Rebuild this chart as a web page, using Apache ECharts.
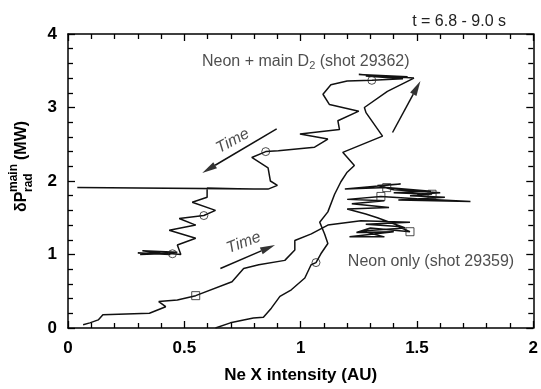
<!DOCTYPE html>
<html>
<head>
<meta charset="utf-8">
<script src="https://cdn.jsdelivr.net/npm/echarts@6/dist/echarts.min.js"></script>
<style>
  html, body { margin: 0; padding: 0; background: #fff; }
  #chart { width: 541px; height: 389px; }
</style>
</head>
<body>
<div id="chart"></div>
<script>
const FONT = '"Liberation Sans", Arial, Helvetica, sans-serif';

// Tick labels
const xTickLabels = ['0', '0.5', '1', '1.5', '2'];
const yTickLabels = ['0', '1', '2', '3', '4'];

// Shot 29362 (neon + main D2): rises on the right branch, returns on the left
const shot29362 = [
  [0.634, 0.00], [0.698, 0.07], [0.755, 0.11], [0.797, 0.135], [0.840, 0.145],
  [0.874, 0.27], [0.911, 0.43], [0.960, 0.52], [1.018, 0.68], [1.045, 0.86],
  [1.066, 0.89], [1.087, 1.01], [1.117, 1.15], [1.103, 1.28], [1.082, 1.44],
  [1.117, 1.58], [1.146, 1.82], [1.173, 1.99], [1.200, 2.12], [1.231, 2.21],
  [1.181, 2.39], [1.352, 2.61], [1.281, 2.93], [1.274, 3.00], [1.373, 3.22],
  [1.487, 3.40], [1.250, 3.45], [1.460, 3.42], [1.280, 3.43], [1.440, 3.39],
  [1.306, 3.37], [1.200, 3.36], [1.130, 3.31], [1.096, 3.18], [1.124, 3.04],
  [1.250, 2.95], [1.160, 2.82], [1.167, 2.70], [0.997, 2.64], [1.117, 2.57],
  [1.060, 2.46], [0.904, 2.41], [0.850, 2.40], [0.790, 2.32], [0.860, 2.18],
  [0.870, 2.00], [0.900, 1.94], [0.860, 1.89], [0.040, 1.91], [0.800, 1.89],
  [0.598, 1.90], [0.598, 1.78], [0.534, 1.71], [0.634, 1.60], [0.584, 1.53],
  [0.478, 1.49], [0.549, 1.40], [0.435, 1.33], [0.549, 1.22], [0.470, 1.13],
  [0.485, 1.00], [0.449, 1.01], [0.300, 1.02], [0.440, 1.00], [0.320, 1.05],
  [0.470, 1.03], [0.310, 1.00], [0.400, 1.01]
];
const shot29362Markers = [
  [1.066, 0.89], [1.306, 3.37], [0.850, 2.40], [0.584, 1.53], [0.449, 1.01]
];

// Shot 29359 (neon only): rises from the origin into a noisy cluster
const shot29359 = [
  [0.065, 0.045], [0.094, 0.07], [0.130, 0.11], [0.150, 0.18], [0.350, 0.20],
  [0.420, 0.29], [0.390, 0.36], [0.470, 0.38], [0.549, 0.44], [0.705, 0.63],
  [0.755, 0.81], [0.820, 0.86], [0.932, 0.92], [0.975, 1.06], [0.975, 1.19],
  [1.046, 1.28], [1.117, 1.40], [1.259, 1.46], [1.470, 1.44], [1.280, 1.41],
  [1.420, 1.38], [1.470, 1.31], [1.300, 1.36], [1.240, 1.30], [1.400, 1.31],
  [1.210, 1.24], [1.360, 1.24], [1.260, 1.32], [1.450, 1.36], [1.330, 1.50],
  [1.280, 1.55], [1.200, 1.62], [1.380, 1.64], [1.220, 1.69], [1.360, 1.73],
  [1.200, 1.75], [1.345, 1.79], [1.500, 1.76], [1.730, 1.72], [1.420, 1.74],
  [1.620, 1.78], [1.470, 1.80], [1.565, 1.82], [1.400, 1.84], [1.560, 1.86],
  [1.370, 1.91], [1.190, 1.89], [1.430, 1.96], [1.330, 1.94], [1.400, 1.88],
  [1.600, 1.84], [1.500, 1.82]
];
const shot29359Markers = [
  [0.549, 0.44], [1.470, 1.31], [1.345, 1.79], [1.565, 1.82], [1.370, 1.91]
];

// Direction-of-time arrows: [x0, y0, x1, y1]
const timeArrows = [
  [0.897, 2.71, 0.577, 2.11],
  [0.655, 0.81, 0.890, 1.13],
  [1.395, 2.66, 1.515, 3.36]
];

const chart = echarts.init(document.getElementById('chart'), null, { renderer: 'canvas' });

const tickStyle = { color: '#000', width: 1.3 };
function axisCommon(extra) {
  return Object.assign({
    type: 'value',
    axisLine: { show: true, onZero: false, lineStyle: { color: '#000', width: 1.5 } },
    axisTick: { show: true, inside: true, length: 7, lineStyle: tickStyle },
    minorTick: { show: true, splitNumber: 5, length: 5, lineStyle: tickStyle },
    splitLine: { show: false },
    minorSplitLine: { show: false }
  }, extra);
}

const boldLabel = { color: '#000', fontFamily: FONT, fontWeight: 'bold', fontSize: 17 };

chart.setOption({
  animation: false,
  backgroundColor: '#fff',
  title: {
    text: 't = 6.8 - 9.0 s',
    right: 30, top: 9,
    textStyle: { color: '#222', fontFamily: FONT, fontWeight: 'normal', fontSize: 16 }
  },
  grid: { left: 68, right: 6, top: 34, bottom: 59 },
  xAxis: [
    axisCommon({
      min: 0, max: 2, interval: 0.5, position: 'bottom',
      name: 'Ne X intensity (AU)', nameLocation: 'middle', nameGap: 39,
      nameTextStyle: boldLabel,
      axisLabel: Object.assign({ margin: 12, formatter: v => xTickLabels[Math.round(v / 0.5)] }, boldLabel)
    }),
    axisCommon({ min: 0, max: 2, interval: 0.5, position: 'top', axisLabel: { show: false } })
  ],
  yAxis: [
    axisCommon({
      min: 0, max: 4, interval: 1, position: 'left',
      axisLabel: Object.assign({ margin: 11, formatter: v => yTickLabels[Math.round(v)] }, boldLabel)
    }),
    axisCommon({ min: 0, max: 4, interval: 1, position: 'right', axisLabel: { show: false } })
  ],
  graphic: [{
    type: 'group',
    x: 22, y: 212,
    rotation: Math.PI / 2,
    children: [
      { type: 'text', x: 0, y: 0, style: { text: 'δP', font: 'bold 16px ' + FONT, fill: '#000', verticalAlign: 'middle', align: 'left' } },
      { type: 'text', x: 20, y: 7, style: { text: 'rad', font: 'bold 12px ' + FONT, fill: '#000', verticalAlign: 'middle', align: 'left' } },
      { type: 'text', x: 20, y: -8, style: { text: 'main', font: 'bold 12px ' + FONT, fill: '#000', verticalAlign: 'middle', align: 'left' } },
      { type: 'text', x: 52, y: 0, style: { text: '(MW)', font: 'bold 16px ' + FONT, fill: '#000', verticalAlign: 'middle', align: 'left' } }
    ]
  }],
  series: [
    {
      name: 'shot 29362', type: 'line', data: shot29362,
      showSymbol: false, symbol: 'none',
      lineStyle: { color: '#111', width: 1.5 }, z: 3
    },
    {
      name: 'shot 29359', type: 'line', data: shot29359,
      showSymbol: false, symbol: 'none',
      lineStyle: { color: '#111', width: 1.5 }, z: 3
    },
    {
      type: 'scatter', data: shot29362Markers, symbol: 'circle', symbolSize: 8,
      itemStyle: { color: 'rgba(0,0,0,0)', borderColor: '#222', borderWidth: 1 }, z: 4
    },
    {
      type: 'scatter', data: shot29359Markers, symbol: 'rect', symbolSize: 8,
      itemStyle: { color: 'rgba(0,0,0,0)', borderColor: '#222', borderWidth: 1 }, z: 4
    },
    {
      type: 'custom', data: timeArrows, z: 5,
      renderItem: function (params, api) {
        const p0 = api.coord([api.value(0), api.value(1)]);
        const p1 = api.coord([api.value(2), api.value(3)]);
        const dx = p1[0] - p0[0], dy = p1[1] - p0[1];
        const len = Math.sqrt(dx * dx + dy * dy);
        const ux = dx / len, uy = dy / len;
        const headL = 15, headW = 3.6;
        const bx = p1[0] - ux * headL, by = p1[1] - uy * headL;
        return {
          type: 'group',
          children: [
            { type: 'line', shape: { x1: p0[0], y1: p0[1], x2: bx, y2: by },
              style: { stroke: '#111', lineWidth: 1.5 } },
            { type: 'polygon', shape: { points: [
                [p1[0], p1[1]],
                [bx - uy * headW, by + ux * headW],
                [bx + uy * headW, by - ux * headW]
              ] }, style: { fill: '#333' } }
          ]
        };
      }
    },
    {
      type: 'scatter', symbolSize: 0, z: 6, silent: true,
      data: [
        { value: [0.576, 3.62], label: { formatter: 'Neon + main D{sub|2} (shot 29362)' } },
        { value: [1.203, 0.905], label: { formatter: 'Neon only (shot 29359)' } }
      ],
      label: {
        show: true, position: 'inside', align: 'left', verticalAlign: 'middle',
        color: '#222', fontFamily: FONT, fontSize: 16,
        rich: { sub: { fontSize: 11, color: '#222', fontFamily: FONT, padding: [9, 0, 0, 0] } }
      }
    },
    {
      type: 'scatter', symbolSize: 0, z: 6, silent: true,
      data: [
        { value: [0.708, 2.545], label: { rotate: 28 } },
        { value: [0.755, 1.16], label: { rotate: 21 } }
      ],
      label: {
        show: true, position: 'inside', formatter: 'Time',
        color: '#222', fontFamily: FONT, fontSize: 16, fontStyle: 'italic'
      }
    }
  ]
});
</script>
</body>
</html>
